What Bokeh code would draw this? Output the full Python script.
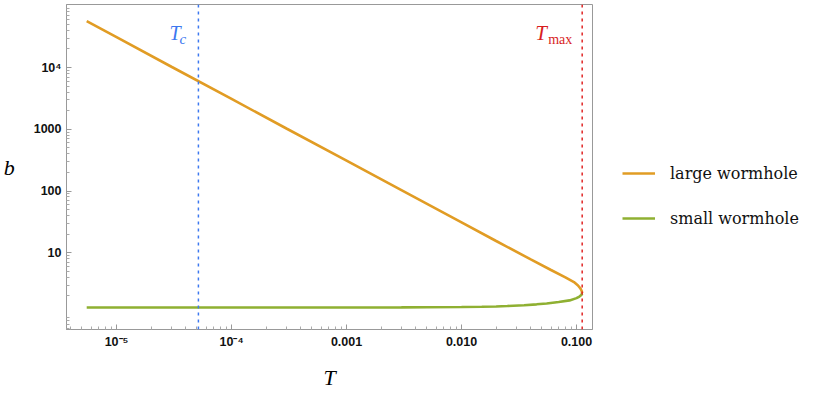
from bokeh.plotting import figure
from bokeh.models import (FixedTicker, CustomJSTickFormatter, Span, Label,
                          Legend, LegendItem, Range1d)
from bokeh.embed import file_html
from bokeh.resources import INLINE

# ---- data ----
T_large = [5.5e-6, 1e-5, 3e-5, 1e-4, 3e-4, 1e-3, 3e-3, 0.01, 0.02, 0.04,
           0.06, 0.08, 0.095, 0.103, 0.108, 0.111, 0.112]
b_large = [56500, 31000, 10300, 3100, 1030, 310, 103, 31, 15.5, 7.8,
           5.25, 4.0, 3.35, 2.95, 2.65, 2.4, 2.2]

T_small = [5.5e-6, 1e-5, 1e-4, 1e-3, 3e-3, 0.005, 0.01, 0.015, 0.02, 0.025,
           0.035, 0.045, 0.055, 0.07, 0.087, 0.1, 0.106, 0.11, 0.112]
b_small = [1.30, 1.30, 1.30, 1.30, 1.305, 1.31, 1.32, 1.335, 1.35, 1.37,
           1.41, 1.46, 1.51, 1.59, 1.69, 1.84, 1.95, 2.06, 2.2]

T_c = 5.15e-5
T_max = 0.112

x_ticks = [1e-5, 1e-4, 1e-3, 1e-2, 1e-1]
x_tick_labels = ["10\u207b\u2075", "10\u207b\u2074", "0.001", "0.010", "0.100"]
y_ticks = [10, 100, 1000, 10000]
y_tick_labels = ["10", "100", "1000", "10\u2074"]

series_names = ["large wormhole", "small wormhole"]
series_colors = ["#E19C24", "#8FB032"]

# ---- figure ----
p = figure(x_axis_type="log", y_axis_type="log",
           x_range=Range1d(3.67e-6, 0.1377), y_range=Range1d(0.571, 1.05e5),
           frame_width=526, frame_height=325,
           min_border_left=61, min_border_right=210,
           min_border_top=4, min_border_bottom=56,
           output_backend="svg", toolbar_location=None)
p.grid.visible = False
p.outline_line_color = "#999999"
p.background_fill_color = "white"

def minor_list(lo_exp, hi_exp):
    out = []
    for e in range(lo_exp, hi_exp + 1):
        for m in range(2, 10):
            out.append(m * 10.0 ** e)
    return out

p.xaxis.ticker = FixedTicker(ticks=x_ticks, minor_ticks=minor_list(-6, -1))
p.yaxis.ticker = FixedTicker(ticks=y_ticks, minor_ticks=minor_list(-1, 5))

fmt_code = """
for (let i = 0; i < tv.length; i++) {
  if (Math.abs(Math.log10(tick) - Math.log10(tv[i])) < 1e-6) return tl[i];
}
return "";
"""
p.xaxis.formatter = CustomJSTickFormatter(args=dict(tv=x_ticks, tl=x_tick_labels), code=fmt_code)
p.yaxis.formatter = CustomJSTickFormatter(args=dict(tv=y_ticks, tl=y_tick_labels), code=fmt_code)

for ax in (p.xaxis[0], p.yaxis[0]):
    ax.axis_line_color = "#999999"
    ax.major_tick_line_color = "#999999"
    ax.minor_tick_line_color = "#aaaaaa"
    ax.major_tick_in = 5
    ax.major_tick_out = 0
    ax.minor_tick_in = 3
    ax.minor_tick_out = 0
    ax.major_label_text_font = "Liberation Sans"
    ax.major_label_text_font_style = "bold"
    ax.major_label_text_font_size = "12.5px"
    ax.major_label_text_color = "#111111"
    ax.major_label_standoff = 5
    ax.axis_label_text_font = "Liberation Serif"
    ax.axis_label_text_font_style = "italic"
    ax.axis_label_text_font_size = "22px"
    ax.axis_label_text_color = "black"

p.xaxis.axis_label = "T"
p.xaxis.axis_label_standoff = 13
p.yaxis.axis_label = "b"
p.yaxis.axis_label_orientation = "horizontal"
p.yaxis.axis_label_standoff = 16

# vertical markers
p.add_layout(Span(location=T_c, dimension="height", line_color="#3C78F0",
                  line_width=1.5, line_dash="3 4"))
p.add_layout(Span(location=T_max, dimension="height", line_color="#E02424",
                  line_width=1.5, line_dash="3 4"))

# curves
r1 = p.line(T_large, b_large, line_color=series_colors[0], line_width=2.6)
r2 = p.line(T_small, b_small, line_color=series_colors[1], line_width=2.6)

# marker labels
lab_font = "Liberation Serif"
p.add_layout(Label(x=T_c, y=286, y_units="screen", x_offset=-29, text="T",
                   text_font=lab_font, text_font_style="italic",
                   text_font_size="20px", text_color="#3C78F0"))
p.add_layout(Label(x=T_c, y=283, y_units="screen", x_offset=-19, text="c",
                   text_font=lab_font, text_font_style="italic",
                   text_font_size="15px", text_color="#3C78F0"))
p.add_layout(Label(x=T_max, y=285, y_units="screen", x_offset=-47, text="T",
                   text_font=lab_font, text_font_style="italic",
                   text_font_size="21px", text_color="#D81E1E"))
p.add_layout(Label(x=T_max, y=283, y_units="screen", x_offset=-34, text="max",
                   text_font=lab_font, text_font_size="14px",
                   text_color="#D81E1E"))

legend = Legend(items=[LegendItem(label=series_names[0], renderers=[r1]),
                       LegendItem(label=series_names[1], renderers=[r2])],
                location=(30, 101), padding=0, margin=0,
                glyph_width=33, glyph_height=20, label_height=20,
                label_standoff=15, spacing=25,
                border_line_alpha=0, background_fill_alpha=0,
                label_text_font="DejaVu Serif", label_text_font_size="16px",
                label_text_color="#111111")
p.add_layout(legend, "right")

open("out.html", "w").write(file_html(p, INLINE))
